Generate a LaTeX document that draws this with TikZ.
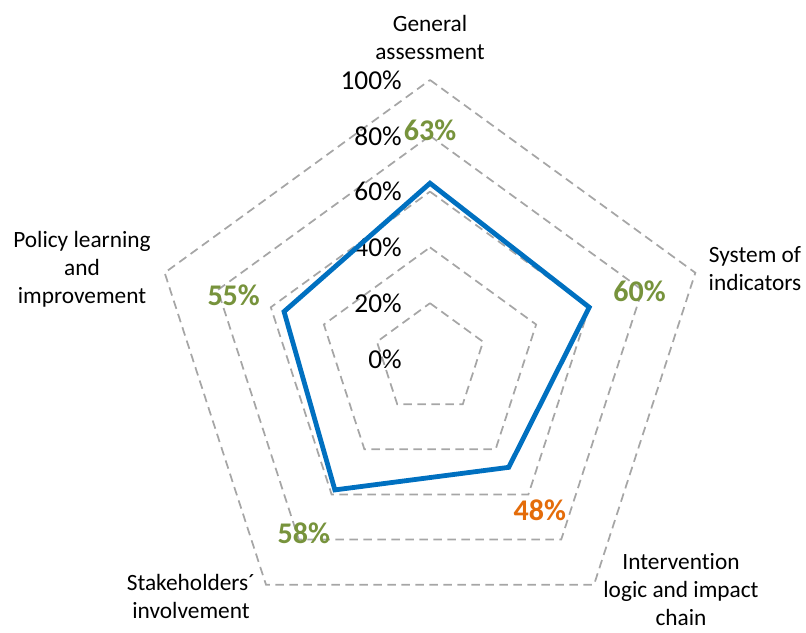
\documentclass[tikz,border=0pt]{standalone}
\usepackage{fontspec}
\setmainfont{Carlito}[Ligatures=NoCommon]
\usetikzlibrary{calc}

\definecolor{gridgray}{HTML}{A6A6A6}
\definecolor{chartblue}{HTML}{0070C0}
\definecolor{valgreen}{HTML}{77933C}
\definecolor{valorange}{HTML}{E46C0A}

\tikzset{
  ring/.style={draw=gridgray, line width=1.3pt, dash pattern=on 6.5pt off 4pt},
  series/.style={draw=chartblue, line width=3.6pt, line join=miter},
  ticklabel/.style={anchor=east, inner sep=0pt, font=\fontsize{20.5}{24}\selectfont},
  vallabel/.style={inner sep=0pt, font=\bfseries\fontsize{22.5}{26}\selectfont},
  category/.style={align=center, inner sep=0pt, font=\fontsize{17.5}{21}\selectfont},
}

\begin{document}
\begin{tikzpicture}[x=0.75pt, y=0.75pt]
    \useasboundingbox (0,0) rectangle (806,632);
    \coordinate (c) at (430,273);

    % rings 20% .. 100%
    \foreach \r in {1,...,5}
      \draw[ring] ($(c)+(90:\r*55.8)$) \foreach \k in {1,...,4} { -- ($(c)+(90-72*\k:\r*55.8)$) } -- cycle;

    \foreach \r/\v in {0/0,1/20,2/40,3/60,4/80,5/100}
      \node[ticklabel] (tick\v) at ($(c)+(-28,\r*55.8)$) {\v\%};

    \foreach \v [count=\k from 0] in {63,60,48,58,55}
      \coordinate (d\k) at ($(c)+(90-72*\k:\v*2.79)$);
    \draw[series] (d0) -- (d1) -- (d2) -- (d3) -- (d4) -- cycle;

    \foreach \v/\col [count=\k from 0] in {63/valgreen,60/valgreen,48/valorange,58/valgreen,55/valgreen}
      \node[vallabel, text=\col] (val\k) at ($(c)+(90-72*\k:\v*2.79+53)$) {\v\%};

    \node[category] (general) at (430,595) {General\\assessment};
    \node[category] (system) at (755,363) {System of\\indicators};
    \node[category] (logic) at (681,42) {Intervention\\logic and impact\\chain};
    \node[category] (stake) at (191,36) {Stakeholders´\\involvement};
    \node[category] (policy) at (82,363) {Policy learning\\and\\improvement};
\end{tikzpicture}
\end{document}
